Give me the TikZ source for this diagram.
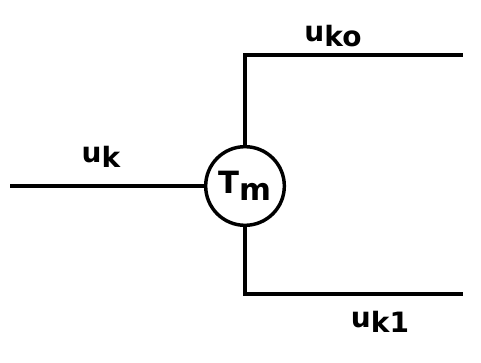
\documentclass[tikz,border=0pt]{standalone}
\usepackage{fontspec}
\setmainfont{DejaVu Sans}
\begin{document}
\begin{tikzpicture}[x=0.75pt,y=-0.75pt,
  wire/.style={line width=2.6pt},
  lbl/.style={font=\bfseries\fontsize{21}{21}\selectfont, inner sep=0pt},
  gate/.style={circle, draw, line width=2.6pt, minimum size=59pt, inner sep=0pt, font=\bfseries\fontsize{23}{23}\selectfont}]
\useasboundingbox (0,0) rectangle (481,363);
\node[gate] (t) at (245,186) {T\raisebox{-0.45ex}{m}};
\coordinate (in) at (10,186);
\coordinate (tc) at (245,55);
\coordinate (te) at (463,55);
\coordinate (bc) at (245,294);
\coordinate (be) at (463,294);
\draw[wire] (in) -- (t.west);
\draw[wire, line join=miter] (t.north) -- (tc) -- (te);
\draw[wire, line join=miter] (t.south) -- (bc) -- (be);
\node[lbl] (lk) at (101,157) {u\raisebox{-0.35ex}{k}};
\node[lbl] (lk0) at (333,36) {u\raisebox{-0.35ex}{ko}};
\node[lbl] (lk1) at (380,322) {u\raisebox{-0.35ex}{k1}};
\end{tikzpicture}
\end{document}
